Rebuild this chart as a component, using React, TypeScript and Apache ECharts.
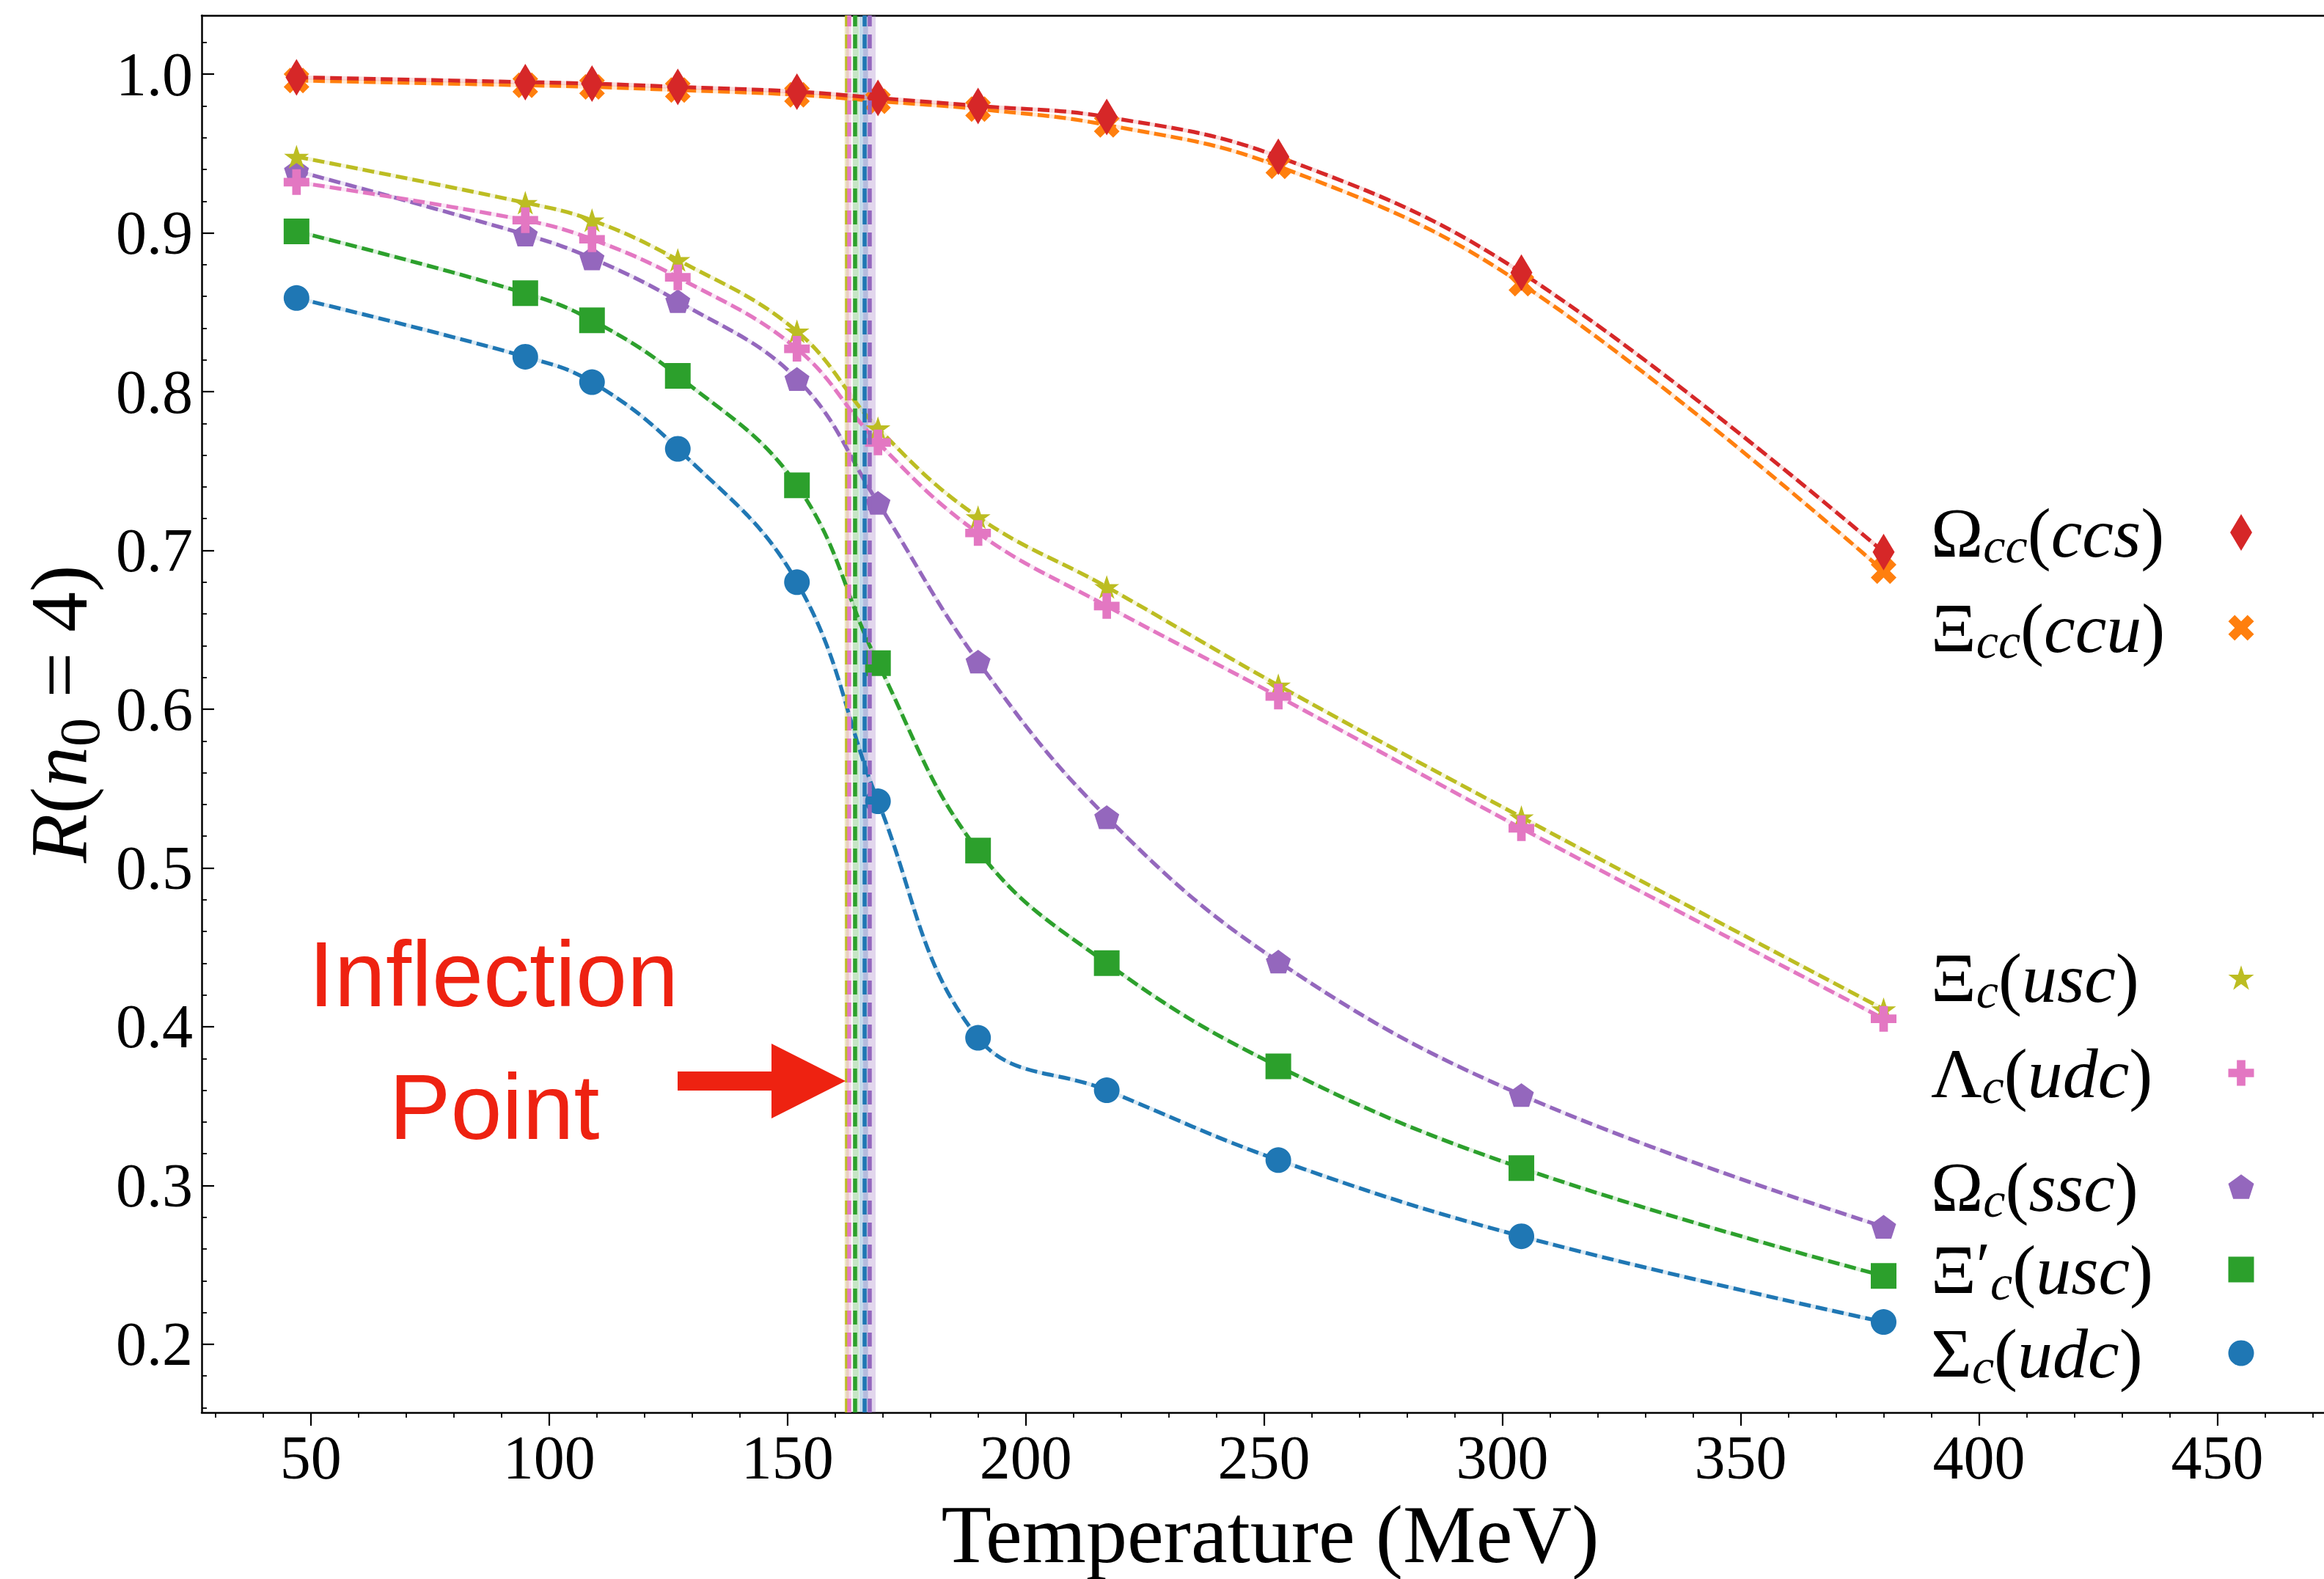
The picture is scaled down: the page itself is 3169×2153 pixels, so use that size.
import React, { useEffect, useRef } from 'react';
import * as echarts from 'echarts';

// Lattice temperatures (MeV)
const temperatures = [47, 95, 109, 127, 152, 169, 190, 217, 253, 304, 380];

// R(n0 = 4) per baryon channel
const omegaCC = [0.998, 0.995, 0.994, 0.992, 0.989, 0.985, 0.98, 0.973, 0.948, 0.875, 0.699];
const xiCC = [0.996, 0.993, 0.992, 0.99, 0.987, 0.983, 0.978, 0.968, 0.942, 0.868, 0.687];
const xiC = [0.948, 0.919, 0.908, 0.883, 0.838, 0.777, 0.721, 0.677, 0.615, 0.532, 0.411];
const lambdaC = [0.932, 0.908, 0.896, 0.872, 0.827, 0.768, 0.711, 0.665, 0.608, 0.525, 0.405];
const omegaC = [0.939, 0.899, 0.884, 0.857, 0.808, 0.73, 0.63, 0.532, 0.441, 0.357, 0.274];
const xiPrimeC = [0.901, 0.862, 0.845, 0.81, 0.741, 0.629, 0.511, 0.44, 0.375, 0.311, 0.243];
const sigmaC = [0.859, 0.822, 0.806, 0.764, 0.68, 0.542, 0.393, 0.36, 0.316, 0.268, 0.214];

// Marker shapes
const SYMBOL_STAR =
  'path://M50,0 L61.23,34.55 L97.55,34.55 L68.17,55.9 L79.39,90.45 L50,69.1 L20.61,90.45 L31.83,55.9 L2.45,34.55 L38.77,34.55 Z';
const SYMBOL_PENTAGON = 'path://M50,0 L97.55,34.55 L79.39,90.45 L20.61,90.45 L2.45,34.55 Z';
const SYMBOL_PLUS = 'path://M1,0 L2,0 L2,1 L3,1 L3,2 L2,2 L2,3 L1,3 L1,2 L0,2 L0,1 L1,1 Z';
const SYMBOL_X = 'path://M1,0 L2,1 L3,0 L4,1 L3,2 L4,3 L3,4 L2,3 L1,4 L0,3 L1,2 L0,1 Z';

const seriesNames = ['Ωcc(ccs)', 'Ξcc(ccu)', 'Ξc(usc)', 'Λc(udc)', 'Ωc(ssc)', 'Ξ′c(usc)', 'Σc(udc)'];
const seriesValues = [omegaCC, xiCC, xiC, lambdaC, omegaC, xiPrimeC, sigmaC];
const seriesColors = ['#d62728', '#ff7f0e', '#bcbd22', '#e377c2', '#9467bd', '#2ca02c', '#1f77b4'];
const seriesSymbols = ['diamond', SYMBOL_X, SYMBOL_STAR, SYMBOL_PLUS, SYMBOL_PENTAGON, 'rect', 'circle'];
const seriesSymbolSizes: number[][] = [[30, 50], [35, 35], [34, 34], [35, 35], [34, 34], [35, 35], [35, 35]];
const legendLabels = [
  '{g|Ω}{s|cc}{p|(}{i|ccs}{p|)}',
  '{g|Ξ}{s|cc}{p|(}{i|ccu}{p|)}',
  '{g|Ξ}{s|c}{p|(}{i|usc}{p|)}',
  '{g|Λ}{s|c}{p|(}{i|udc}{p|)}',
  '{g|Ω}{s|c}{p|(}{i|ssc}{p|)}',
  '{g|Ξ}{pr|′}{s|c}{p|(}{i|usc}{p|)}',
  '{g|Σ}{s|c}{p|(}{i|udc}{p|)}',
];
const legendRowY = [726, 856, 1333, 1463, 1618, 1731, 1845];
// painting order: later entries sit on top
const drawOrder = [6, 5, 4, 2, 3, 1, 0];

// Inflection temperatures (MeV) with their uncertainty bands
const inflectionOf = [2, 3, 5, 6, 4];
const inflectionT = [162.4, 162.9, 164.2, 166.1, 167.3];
const inflectionLow = [162.0, 162.3, 163.7, 165.1, 165.9];
const inflectionHigh = [162.9, 163.4, 165.0, 166.9, 168.5];

// Axis ranges and ticks
const X_MIN = 27.1;
const X_MAX = 472.4;
const Y_MIN = 0.157;
const Y_MAX = 1.037;
const xMajorTicks = [50, 100, 150, 200, 250, 300, 350, 400, 450];
const yMajorTicks = [0.2, 0.3, 0.4, 0.5, 0.6, 0.7, 0.8, 0.9, 1.0];
const steps = (from: number, to: number, step: number) => {
  const out: number[] = [];
  const n = Math.round((to - from) / step);
  for (let k = 0; k <= n; k++) out.push(Math.round((from + k * step) * 1000) / 1000);
  return out;
};
const xMinorTicks = steps(30, 470, 10);
const yMinorTicks = steps(0.16, 1.02, 0.02);

const SERIF = 'Liberation Serif';
const RED_NOTE = '#ee2211';

const legendRich = {
  g: { fontFamily: SERIF, fontSize: 96, lineHeight: 110, color: '#000' },
  s: { fontFamily: SERIF, fontStyle: 'italic', fontSize: 68, lineHeight: 110, padding: [36, 0, 0, 0], color: '#000' },
  p: { fontFamily: SERIF, fontSize: 96, lineHeight: 110, color: '#000' },
  i: { fontFamily: SERIF, fontStyle: 'italic', fontSize: 96, lineHeight: 110, color: '#000' },
  pr: { fontFamily: SERIF, fontSize: 88, lineHeight: 110, padding: [0, 0, 12, 0], color: '#000' },
};

const yNameRich = {
  i: { fontFamily: SERIF, fontStyle: 'italic', fontSize: 110, lineHeight: 130, color: '#000' },
  p: { fontFamily: SERIF, fontSize: 110, lineHeight: 130, color: '#000' },
  s: { fontFamily: SERIF, fontSize: 78, lineHeight: 130, padding: [54, 0, 0, 0], color: '#000' },
};

function buildOption() {
  const series: any[] = [];

  // inflection markers sit beneath the curves
  inflectionOf.forEach((si, k) => {
    series.push({
      type: 'line',
      name: 'inflection-' + k,
      data: [],
      silent: true,
      z: 1,
      markArea: {
        silent: true,
        label: { show: false },
        itemStyle: { color: seriesColors[si], opacity: 0.27 },
        data: [[{ xAxis: inflectionLow[k] }, { xAxis: inflectionHigh[k] }]],
      },
      markLine: {
        silent: true,
        symbol: ['none', 'none'],
        label: { show: false },
        lineStyle: { color: seriesColors[si], width: 5.5, type: [19, 11], opacity: 1 },
        data: [{ xAxis: inflectionT[k] }],
      },
    });
  });

  // faint solid trace under each dashed curve
  drawOrder.forEach((si) => {
    series.push({
      type: 'line',
      name: 'trace-' + si,
      data: temperatures.map((t, j) => [t, seriesValues[si][j]]),
      smooth: 0.4,
      symbol: 'none',
      silent: true,
      z: 2,
      lineStyle: { color: seriesColors[si], width: 5.5, opacity: 0.17, type: 'solid' },
    });
  });

  drawOrder.forEach((si) => {
    const sym = seriesSymbols[si];
    series.push({
      type: 'line',
      name: seriesNames[si],
      data: temperatures.map((t, j) => [t, seriesValues[si][j]]),
      smooth: 0.4,
      symbol: sym,
      symbolSize: seriesSymbolSizes[si],
      symbolKeepAspect: sym.indexOf('path://') === 0,
      z: 3,
      itemStyle: { color: seriesColors[si], borderWidth: 0, opacity: 1 },
      lineStyle: { color: seriesColors[si], width: 5.2, type: [16, 7], cap: 'butt' },
      emphasis: { disabled: true },
    });
  });

  const legends: any[] = [];
  seriesNames.forEach((name, si) => {
    // label column
    legends.push({
      data: [{ name, icon: 'none' }],
      left: 2628,
      top: legendRowY[si] - 55,
      padding: 0,
      itemWidth: 0,
      itemHeight: 10,
      selectedMode: false,
      formatter: () => legendLabels[si],
      textStyle: { color: '#000', fontFamily: SERIF, fontSize: 96, lineHeight: 110, rich: legendRich },
    });
    // marker column
    const [w, h] = si === 0 ? [30, 50] : [35, 35];
    legends.push({
      data: [{ name, icon: seriesSymbols[si] }],
      left: 3056 - w / 2,
      top: legendRowY[si] - h / 2,
      padding: 0,
      itemWidth: w,
      itemHeight: h,
      selectedMode: false,
      formatter: () => '',
      itemStyle: { borderWidth: 0 },
      textStyle: { fontSize: 1 },
    });
  });

  const axisLineStyle = { color: '#000', width: 2.5 };

  return {
    animation: false,
    backgroundColor: '#ffffff',
    grid: { left: 275, top: 21, right: 0, bottom: 225, containLabel: false },
    legend: legends,
    xAxis: [
      {
        type: 'value',
        min: X_MIN,
        max: X_MAX,
        position: 'bottom',
        name: 'Temperature (MeV)',
        nameLocation: 'middle',
        nameGap: 110,
        nameTextStyle: { fontFamily: SERIF, fontSize: 112, lineHeight: 112, color: '#000', padding: [0, 0, 0, 20] },
        axisLine: { show: true, onZero: false, lineStyle: axisLineStyle },
        axisTick: { show: true, inside: false, length: 18, customValues: xMajorTicks, lineStyle: { color: '#000', width: 2.2 } },
        axisLabel: {
          show: true,
          customValues: xMajorTicks,
          margin: 19,
          fontFamily: SERIF,
          fontSize: 84,
          lineHeight: 84,
          color: '#000',
          formatter: (v: number) => String(Math.round(v)),
        },
        splitLine: { show: false },
      },
      {
        type: 'value',
        min: X_MIN,
        max: X_MAX,
        position: 'bottom',
        axisLine: { show: false, onZero: false },
        axisTick: { show: true, inside: false, length: 7, customValues: xMinorTicks, lineStyle: { color: '#000', width: 1.8 } },
        axisLabel: { show: false },
        splitLine: { show: false },
      },
      {
        type: 'value',
        min: X_MIN,
        max: X_MAX,
        position: 'top',
        axisLine: { show: true, onZero: false, lineStyle: axisLineStyle },
        axisTick: { show: false },
        axisLabel: { show: false },
        splitLine: { show: false },
      },
    ],
    yAxis: [
      {
        type: 'value',
        min: Y_MIN,
        max: Y_MAX,
        position: 'left',
        name: '{i|R}{p|(}{i|n}{s|0}{p| = 4)}',
        nameLocation: 'middle',
        nameRotate: 90,
        nameGap: 119,
        nameTextStyle: { rich: yNameRich, fontFamily: SERIF, fontSize: 110, lineHeight: 130, color: '#000' },
        axisLine: { show: true, onZero: false, lineStyle: axisLineStyle },
        axisTick: { show: true, inside: true, length: 17, customValues: yMajorTicks, lineStyle: { color: '#000', width: 2.2 } },
        axisLabel: {
          show: true,
          customValues: yMajorTicks,
          margin: 12,
          fontFamily: SERIF,
          fontSize: 84,
          lineHeight: 84,
          color: '#000',
          formatter: (v: number) => v.toFixed(1),
        },
        splitLine: { show: false },
      },
      {
        type: 'value',
        min: Y_MIN,
        max: Y_MAX,
        position: 'left',
        axisLine: { show: false, onZero: false },
        axisTick: { show: true, inside: true, length: 7, customValues: yMinorTicks, lineStyle: { color: '#000', width: 1.8 } },
        axisLabel: { show: false },
        splitLine: { show: false },
      },
    ],
    series,
    graphic: [
      {
        type: 'text',
        x: 673,
        y: 1328,
        z: 10,
        style: {
          text: 'Inflection',
          fontFamily: 'Liberation Sans',
          fontSize: 126,
          fill: RED_NOTE,
          align: 'center',
          verticalAlign: 'middle',
        },
      },
      {
        type: 'text',
        x: 674,
        y: 1509,
        z: 10,
        style: {
          text: 'Point',
          fontFamily: 'Liberation Sans',
          fontSize: 126,
          fill: RED_NOTE,
          align: 'center',
          verticalAlign: 'middle',
        },
      },
      {
        type: 'polygon',
        z: 10,
        shape: {
          points: [
            [924, 1461],
            [1052, 1461],
            [1052, 1423],
            [1153, 1474],
            [1052, 1525],
            [1052, 1487],
            [924, 1487],
          ],
        },
        style: { fill: RED_NOTE },
      },
    ],
  };
}

export default function App() {
  const ref = useRef<HTMLDivElement>(null);

  useEffect(() => {
    if (!ref.current) return;
    const chart = echarts.init(ref.current, undefined, { renderer: 'svg' });
    chart.setOption(buildOption() as any);
    return () => chart.dispose();
  }, []);

  return (
    <div
      ref={ref}
      style={{ position: 'absolute', left: 0, top: 0, width: 3169, height: 2153, background: '#ffffff' }}
    />
  );
}
